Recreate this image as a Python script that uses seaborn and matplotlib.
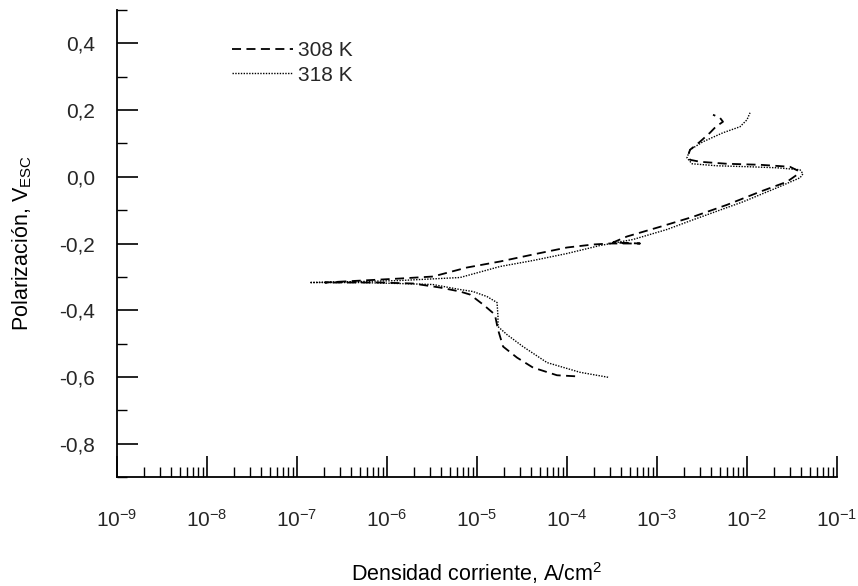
import matplotlib
matplotlib.use('Agg')
import matplotlib.pyplot as plt
import matplotlib.ticker as mticker
import numpy as np
import pandas as pd
import seaborn as sns

# 308 K curve (cathodic end -> Ecorr -> anodic end), current A/cm2, potential V
i_308 = [1.23e-4, 7.74e-5, 4.19e-5, 2.78e-5, 1.95e-5, 1.71e-5, 1.58e-5, 1.17e-5,
         8.36e-6, 6.48e-6, 3.88e-6, 1.95e-6, 8.36e-7, 3.24e-7, 2.05e-7,
         3.24e-7, 1.39e-6, 3.24e-6, 7.74e-6, 1.8e-5, 4.19e-5, 1.0e-4, 1.95e-4,
         3.0e-4, 6.48e-4, 3.24e-4, 4.64e-4, 1.08e-3, 2.51e-3, 6.0e-3, 1.39e-2,
         2.78e-2, 3.59e-2, 3.7e-2, 3.0e-2, 1.39e-2, 6.0e-3, 3.0e-3, 2.33e-3,
         2.21e-3, 2.33e-3, 3.0e-3, 3.88e-3, 4.5e-3, 5.41e-3, 5.0e-3, 4.19e-3]
e_308 = [-0.598, -0.595, -0.572, -0.542, -0.509, -0.458, -0.413, -0.383,
         -0.353, -0.344, -0.332, -0.320, -0.317, -0.317, -0.317,
         -0.314, -0.305, -0.299, -0.272, -0.254, -0.233, -0.212, -0.203,
         -0.200, -0.200, -0.197, -0.179, -0.150, -0.120, -0.084, -0.045,
         -0.015, 0.006, 0.018, 0.030, 0.036, 0.039, 0.045, 0.051,
         0.063, 0.081, 0.105, 0.132, 0.150, 0.165, 0.177, 0.186]

# 318 K curve
i_318 = [2.86e-4, 1.39e-4, 6.0e-5, 3.24e-5, 2.15e-5, 1.71e-5, 1.71e-5, 1.67e-5,
         1.29e-5, 9.03e-6, 6.48e-6, 3.24e-6, 1.39e-6, 5.0e-7, 1.39e-7,
         5.0e-7, 1.39e-6, 6.48e-6, 1.8e-5, 4.19e-5, 1.0e-4, 2.33e-4, 5.41e-4,
         1.29e-3, 2.51e-3, 9.03e-3, 2.15e-2, 3.88e-2, 4.19e-2, 3.88e-2, 2.15e-2,
         1.08e-2, 4.64e-3, 2.45e-3, 2.15e-3, 2.33e-3, 3.24e-3, 5.41e-3, 8.36e-3,
         1.0e-2, 1.08e-2]
e_318 = [-0.601, -0.586, -0.557, -0.509, -0.473, -0.449, -0.419, -0.377,
         -0.359, -0.344, -0.338, -0.323, -0.320, -0.317, -0.317,
         -0.314, -0.311, -0.302, -0.269, -0.251, -0.230, -0.206, -0.188,
         -0.158, -0.129, -0.075, -0.033, -0.003, 0.009, 0.021, 0.027,
         0.030, 0.033, 0.039, 0.057, 0.081, 0.105, 0.132, 0.150,
         0.171, 0.192]

labels = ['308 K', '318 K']

sns.set_theme(style='ticks')
plt.rcParams['font.family'] = ['Liberation Sans', 'DejaVu Sans']
plt.rcParams['mathtext.fontset'] = 'custom'
plt.rcParams['mathtext.rm'] = 'Liberation Sans'
plt.rcParams['mathtext.it'] = 'Liberation Sans'
plt.rcParams['mathtext.default'] = 'regular'

fig = plt.figure(figsize=(8.58, 5.86), dpi=100)
ax = fig.add_axes([117/858, 1 - 477/586, 720/858, 467/586])

df308 = pd.DataFrame({'i': i_308, 'E': e_308})
df318 = pd.DataFrame({'i': i_318, 'E': e_318})
sns.lineplot(data=df308, x='i', y='E', sort=False, estimator=None, ax=ax,
             color='black', lw=1.3, dashes=False, label=labels[0])
sns.lineplot(data=df318, x='i', y='E', sort=False, estimator=None, ax=ax,
             color='black', lw=1.0, dashes=False, label=labels[1])
ax.lines[0].set_dashes([5, 3])
ax.lines[1].set_dashes([1, 1])

ax.set_xscale('log')
ax.set_xlim(1e-9, 1e-1)
ax.set_ylim(-0.9, 0.5)

ax.xaxis.set_major_locator(mticker.LogLocator(base=10, numticks=20))
ax.xaxis.set_minor_locator(mticker.LogLocator(base=10, subs=np.arange(2, 10), numticks=20))
ax.xaxis.set_minor_formatter(mticker.NullFormatter())
ax.xaxis.set_major_formatter(mticker.FuncFormatter(
    lambda v, p: r'$10^{\mathrm{-%d}}$' % round(-np.log10(v))))

ax.yaxis.set_major_locator(mticker.FixedLocator([0.4, 0.2, 0.0, -0.2, -0.4, -0.6, -0.8]))
ax.yaxis.set_minor_locator(mticker.FixedLocator([0.5, 0.3, 0.1, -0.1, -0.3, -0.5, -0.7, -0.9]))
ax.yaxis.set_major_formatter(mticker.FuncFormatter(
    lambda v, p: ('%.1f' % v).replace('.', ',').replace('-0,0', '0,0')))

ax.tick_params(which='major', direction='in', length=15, width=1.2, labelsize=15, color='black')
ax.tick_params(which='minor', direction='in', length=7.5, width=1.0, color='black')
ax.tick_params(axis='x', which='major', pad=23)
ax.tick_params(axis='y', which='major', pad=16)

for s in ['top', 'right']:
    ax.spines[s].set_visible(False)
for s in ['left', 'bottom']:
    ax.spines[s].set_color('black')
    ax.spines[s].set_linewidth(1.3)

ax.set_xlabel('Densidad corriente, A/cm$^{2}$', fontsize=15.5, labelpad=21, color='black')
ax.set_ylabel('Polarización, V$_{ESC}$', fontsize=15.5, labelpad=18, color='black')

ax.legend(loc='upper left', bbox_to_anchor=(0.134, 0.973), frameon=False, fontsize=15,
          handlelength=2.9, handletextpad=0.25, labelspacing=0.25)

fig.savefig('out.png', dpi=100)
